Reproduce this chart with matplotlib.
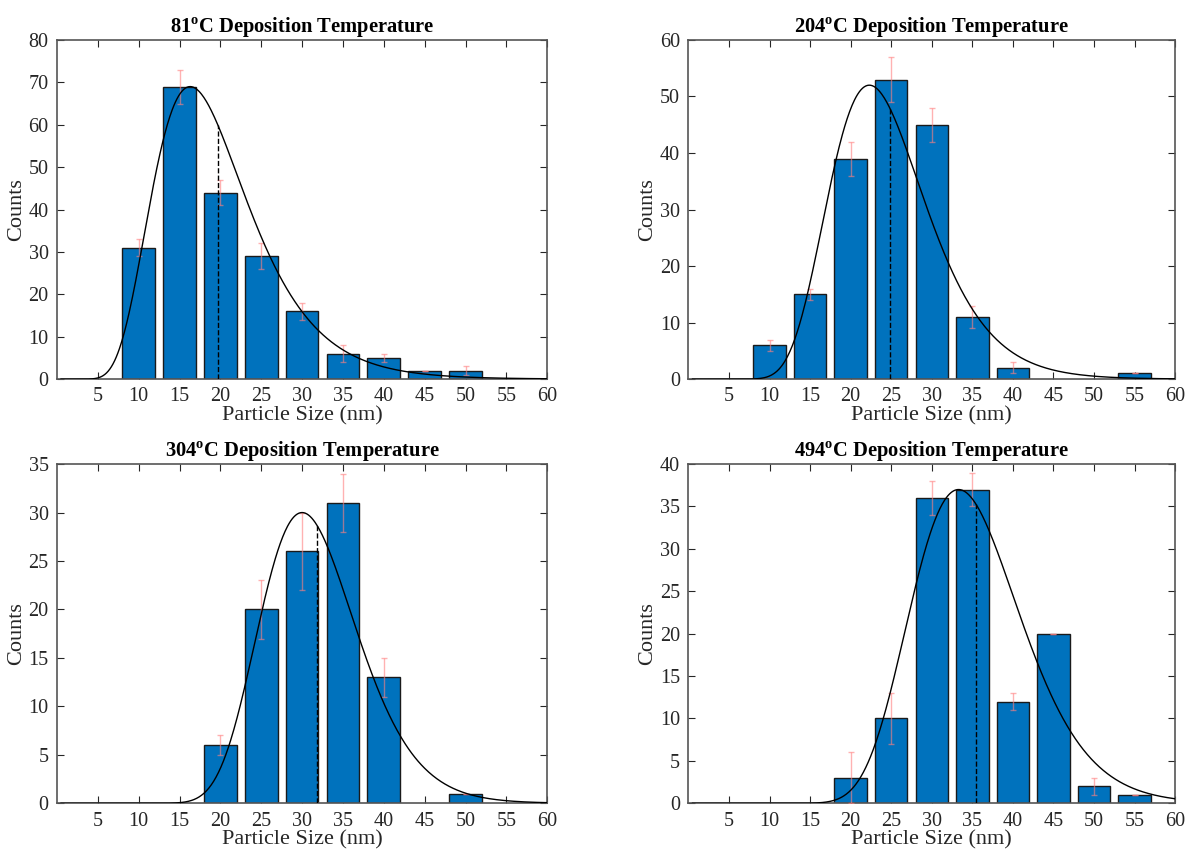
import numpy as np
import matplotlib.pyplot as plt

plt.rcParams['font.family'] = ['Liberation Serif', 'DejaVu Serif']
plt.rcParams['mathtext.fontset'] = 'custom'
plt.rcParams['mathtext.rm'] = 'Liberation Serif'
plt.rcParams['mathtext.bf'] = 'Liberation Serif:bold'

# bar centres (nm) and counts per temperature
temps = ['81', '204', '304', '494']

sizes_81 = [10, 15, 20, 25, 30, 35, 40, 45, 50]
counts_81 = [31, 69, 44, 29, 16, 6, 5, 2, 2]
err_81 = [2, 4, 3, 3, 2, 2, 1, 0, 1]

sizes_204 = [10, 15, 20, 25, 30, 35, 40, 55]
counts_204 = [6, 15, 39, 53, 45, 11, 2, 1]
err_204 = [1, 1, 3, 4, 3, 2, 1, 0]

sizes_304 = [20, 25, 30, 35, 40, 50]
counts_304 = [6, 20, 26, 31, 13, 1]
err_304 = [1, 3, 4, 3, 2, 0]

sizes_494 = [20, 25, 30, 35, 40, 45, 50, 55]
counts_494 = [3, 10, 36, 37, 12, 20, 2, 1]
err_494 = [3, 3, 2, 2, 1, 0, 1, 0]

# lognormal fit: peak height, mode (nm), sigma
fit_peak = [69, 52, 30, 37]
fit_mode = [16.3, 22.3, 30.0, 33.3]
fit_sigma = [0.356, 0.266, 0.197, 0.202]

y_max = [80, 60, 35, 40]
y_step = [10, 10, 5, 5]

sizes = [sizes_81, sizes_204, sizes_304, sizes_494]
counts = [counts_81, counts_204, counts_304, counts_494]
errs = [err_81, err_204, err_304, err_494]


def lognorm_curve(x, peak, mode, s):
    mu = np.log(mode) + s ** 2
    f = np.exp(-(np.log(x) - mu) ** 2 / (2 * s ** 2)) / x
    f0 = np.exp(-(np.log(mode) - mu) ** 2 / (2 * s ** 2)) / mode
    return peak * f / f0


fig = plt.figure(figsize=(11.87, 8.5), dpi=100)
positions = [
    [0.048, 0.554, 0.413, 0.399],
    [0.580, 0.554, 0.410, 0.399],
    [0.048, 0.055, 0.413, 0.399],
    [0.580, 0.055, 0.410, 0.399],
]

axis_col = '#262626'
for i in range(4):
    ax = fig.add_axes(positions[i])
    ax.bar(sizes[i], counts[i], width=4, color='#0072BD', edgecolor='#1a1a1a',
           linewidth=1.0, zorder=2)
    ax.errorbar(sizes[i], counts[i], yerr=errs[i], fmt='none', ecolor='#ff8080',
                alpha=0.6, elinewidth=1, capsize=2, zorder=3)

    x = np.linspace(0.5, 60, 600)
    y = lognorm_curve(x, fit_peak[i], fit_mode[i], fit_sigma[i])
    ax.plot(x, y, color='black', linewidth=1, zorder=4)

    s = fit_sigma[i]
    mean = np.exp(np.log(fit_mode[i]) + 1.5 * s ** 2)
    ax.plot([mean, mean], [0, lognorm_curve(mean, fit_peak[i], fit_mode[i], s)],
            color='black', linestyle='--', linewidth=1, zorder=4)

    ax.set_xlim(0, 60)
    ax.set_ylim(0, y_max[i])
    ax.set_xticks(range(5, 61, 5))
    ax.set_yticks(range(0, y_max[i] + 1, y_step[i]))
    ax.tick_params(direction='in', top=True, right=True, labelsize=14.5,
                   colors=axis_col, length=5, pad=6)
    for sp in ax.spines.values():
        sp.set_color('#555555')
        sp.set_linewidth(1.2)

    ax.set_title(temps[i] + r'$^{\mathbf{o}}$C Deposition Temperature',
                 fontsize=14.8, fontweight='bold', pad=5)
    ax.set_xlabel('Particle Size (nm)', fontsize=16, color=axis_col, labelpad=0)
    ax.set_ylabel('Counts', fontsize=16, color=axis_col, labelpad=2)

plt.savefig('out.png', dpi=100)
